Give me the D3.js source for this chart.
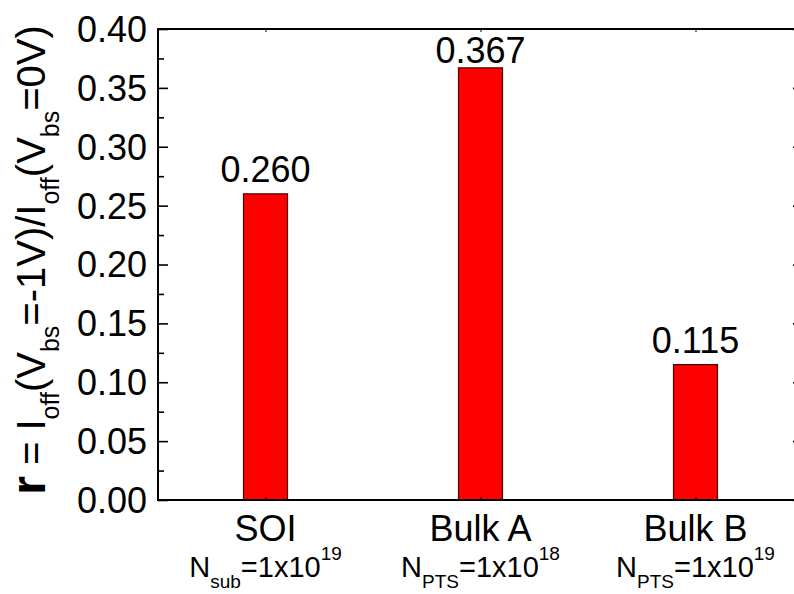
<!DOCTYPE html>
<html>
<head>
<meta charset="utf-8">
<script src="https://cdn.jsdelivr.net/npm/d3@7"></script>
<style>
  html, body { margin: 0; padding: 0; background: #fff; }
  svg { display: block; }
  text { font-family: "Liberation Sans", Arial, Helvetica, sans-serif; fill: #000; }
</style>
</head>
<body>
<svg id="chart" width="794" height="594"></svg>
<script>
// Off-state current ratio for three device structures
const categories   = ["SOI", "Bulk A", "Bulk B"];
const ratios       = [0.260, 0.367, 0.115];
const ratioLabels  = ["0.260", "0.367", "0.115"];
const dopingSub    = ["sub", "PTS", "PTS"];
const dopingExp    = ["19", "18", "19"];
const yMajorTicks  = [0, 0.05, 0.10, 0.15, 0.20, 0.25, 0.30, 0.35, 0.40];
const yTickLabels  = ["0.00", "0.05", "0.10", "0.15", "0.20", "0.25", "0.30", "0.35", "0.40"];
const yMinorTicks  = [0.025, 0.075, 0.125, 0.175, 0.225, 0.275, 0.325, 0.375];

const svg = d3.select("#chart");
const plot = { left: 158, right: 803, top: 29, bottom: 500 };

const x = d3.scalePoint().domain(categories).range([plot.left, plot.right]).padding(0.5);
const y = d3.scaleLinear().domain([0, 0.4]).range([plot.bottom, plot.top]);
const barWidth = 44;

// bars
svg.append("g").selectAll("rect")
  .data(categories)
  .join("rect")
  .attr("x", (d) => x(d) - barWidth / 2)
  .attr("y", (d, i) => y(ratios[i]))
  .attr("width", barWidth)
  .attr("height", (d, i) => y(0) - y(ratios[i]))
  .attr("fill", "#ff0000")
  .attr("stroke", "#4a0000")
  .attr("stroke-width", 1.2);

// value labels above bars (kept inside the frame)
svg.append("g").selectAll("text")
  .data(categories)
  .join("text")
  .attr("x", (d) => x(d))
  .attr("y", (d, i) => Math.max(y(ratios[i]) - 12, plot.top + 34))
  .attr("text-anchor", "middle")
  .attr("font-size", 36)
  .text((d, i) => ratioLabels[i]);

const frame = svg.append("g").attr("class", "frame");

// left axis: inward major + minor ticks
const leftAxis = frame.append("g").attr("transform", `translate(${plot.left},0)`);
leftAxis.call(d3.axisRight(y).tickValues(yMajorTicks).tickSize(10).tickFormat(""));
leftAxis.append("g").call(d3.axisRight(y).tickValues(yMinorTicks).tickSize(6).tickFormat(""));
leftAxis.selectAll(".domain").remove();
leftAxis.selectAll("line").attr("stroke", "#000").attr("stroke-width", 1.6);

// right axis: inward ticks
const rightAxis = frame.append("g").attr("transform", `translate(${plot.right},0)`);
rightAxis.call(d3.axisLeft(y).tickValues(yMajorTicks).tickSize(10).tickFormat(""));
rightAxis.append("g").call(d3.axisLeft(y).tickValues(yMinorTicks).tickSize(6).tickFormat(""));
rightAxis.selectAll(".domain").remove();
rightAxis.selectAll("line").attr("stroke", "#000").attr("stroke-width", 1.6);

// bottom and top axes: small inward category ticks
const bottomAxis = frame.append("g").attr("transform", `translate(0,${plot.bottom})`);
bottomAxis.call(d3.axisTop(x).tickSize(3).tickFormat(""));
bottomAxis.selectAll(".domain").remove();
bottomAxis.selectAll("line").attr("stroke", "#000").attr("stroke-width", 1);
const topAxis = frame.append("g").attr("transform", `translate(0,${plot.top})`);
topAxis.call(d3.axisBottom(x).tickSize(3).tickFormat(""));
topAxis.selectAll(".domain").remove();
topAxis.selectAll("line").attr("stroke", "#000").attr("stroke-width", 1);

// frame rectangle
frame.append("rect")
  .attr("x", plot.left).attr("y", plot.top)
  .attr("width", plot.right - plot.left).attr("height", plot.bottom - plot.top)
  .attr("fill", "none").attr("stroke", "#000").attr("stroke-width", 2);

// y tick labels
svg.append("g").selectAll("text")
  .data(yMajorTicks)
  .join("text")
  .attr("x", plot.left - 11)
  .attr("y", (d) => y(d))
  .attr("dy", "0.36em")
  .attr("text-anchor", "end")
  .attr("font-size", 36)
  .text((d, i) => yTickLabels[i]);

// category labels
svg.append("g").selectAll("text")
  .data(categories)
  .join("text")
  .attr("x", (d) => x(d))
  .attr("y", 541)
  .attr("text-anchor", "middle")
  .attr("font-size", 36)
  .text((d) => d);

// doping labels: N_sub / N_PTS = 1x10^n
const doping = svg.append("g").selectAll("text")
  .data(categories)
  .join("text")
  .attr("x", (d) => x(d))
  .attr("y", 577)
  .attr("text-anchor", "middle")
  .attr("font-size", 29);
doping.each(function (d, i) {
  const t = d3.select(this);
  t.append("tspan").text("N");
  t.append("tspan").attr("font-size", 19).attr("dy", 11).text(dopingSub[i]);
  t.append("tspan").attr("dy", -11).text("=1x10");
  t.append("tspan").attr("font-size", 19).attr("dy", -17).text(dopingExp[i]);
});

// y axis title
const title = svg.append("text")
  .attr("transform", "translate(45,260) rotate(-90)")
  .attr("text-anchor", "middle")
  .attr("font-size", 40);
const parts = [
  { t: "r", size: 48, weight: "bold" },
  { t: " = I" },
  { t: "off", sub: true },
  { t: "(V" },
  { t: "bs", sub: true },
  { t: "=-1V)/I" },
  { t: "off", sub: true },
  { t: "(V" },
  { t: "bs", sub: true },
  { t: "=0V)" }
];
let shifted = false;
parts.forEach((p) => {
  const s = title.append("tspan").text(p.t);
  if (p.sub) {
    s.attr("font-size", 25).attr("dy", 14);
    shifted = true;
  } else {
    if (shifted) { s.attr("dy", -14); shifted = false; }
    if (p.size) s.attr("font-size", p.size);
    if (p.weight) s.attr("font-weight", p.weight);
  }
});
</script>
</body>
</html>
